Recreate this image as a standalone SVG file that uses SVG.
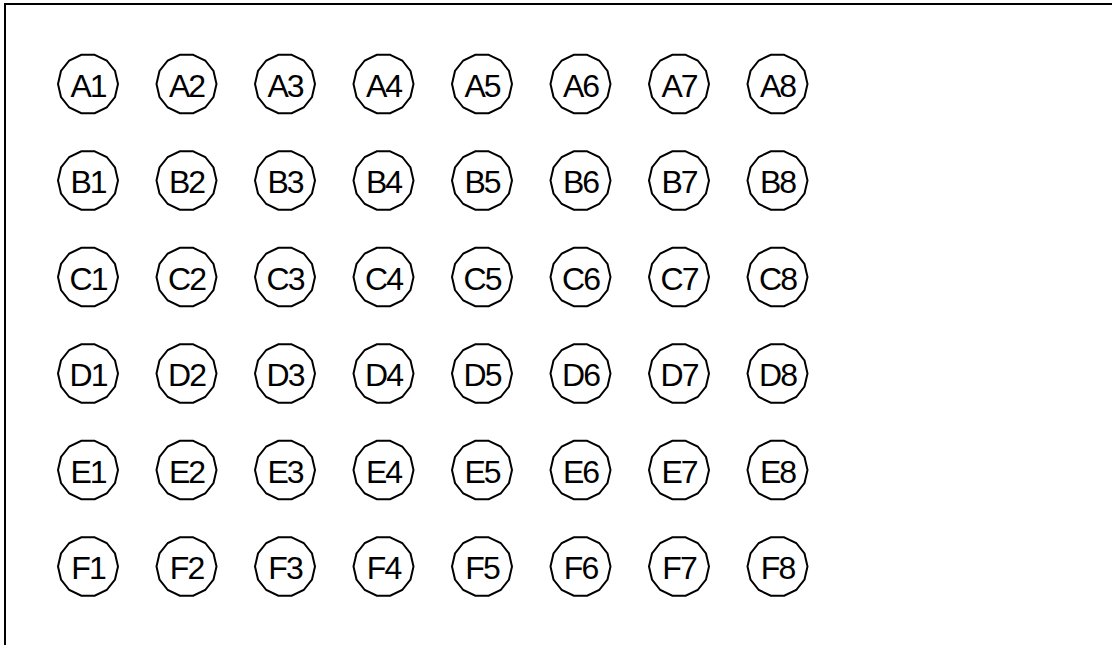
<svg xmlns="http://www.w3.org/2000/svg" width="1112" height="645" viewBox="0 0 1112 645">
<defs>
<style>
.n text{font-family:"Liberation Sans",Arial,sans-serif;font-size:32px;text-anchor:middle;fill:#000;letter-spacing:-2px}
</style>
<polygon id="p" fill="#fff" stroke="#000" stroke-width="2" points="6.7,-29.2 18.7,-23.5 27,-13 30,0 27,13 18.7,23.5 6.7,29.2 -6.7,29.2 -18.7,23.5 -27,13 -30,0 -27,-13 -18.7,-23.5 -6.7,-29.2"/>
</defs>
<rect width="1112" height="645" fill="#fff"/>
<path d="M5,660 V4 H1120" fill="none" stroke="#000" stroke-width="2"/>
<g id="nodes">
<g id="A1" class="n" transform="translate(88,84)"><use href="#p"/><text x="0" y="12.5">A1</text></g>
<g id="A2" class="n" transform="translate(186.5,84)"><use href="#p"/><text x="0" y="12.5">A2</text></g>
<g id="A3" class="n" transform="translate(285,84)"><use href="#p"/><text x="0" y="12.5">A3</text></g>
<g id="A4" class="n" transform="translate(383.5,84)"><use href="#p"/><text x="0" y="12.5">A4</text></g>
<g id="A5" class="n" transform="translate(482,84)"><use href="#p"/><text x="0" y="12.5">A5</text></g>
<g id="A6" class="n" transform="translate(580.5,84)"><use href="#p"/><text x="0" y="12.5">A6</text></g>
<g id="A7" class="n" transform="translate(679,84)"><use href="#p"/><text x="0" y="12.5">A7</text></g>
<g id="A8" class="n" transform="translate(777.5,84)"><use href="#p"/><text x="0" y="12.5">A8</text></g>
<g id="B1" class="n" transform="translate(88,180.5)"><use href="#p"/><text x="0" y="12.5">B1</text></g>
<g id="B2" class="n" transform="translate(186.5,180.5)"><use href="#p"/><text x="0" y="12.5">B2</text></g>
<g id="B3" class="n" transform="translate(285,180.5)"><use href="#p"/><text x="0" y="12.5">B3</text></g>
<g id="B4" class="n" transform="translate(383.5,180.5)"><use href="#p"/><text x="0" y="12.5">B4</text></g>
<g id="B5" class="n" transform="translate(482,180.5)"><use href="#p"/><text x="0" y="12.5">B5</text></g>
<g id="B6" class="n" transform="translate(580.5,180.5)"><use href="#p"/><text x="0" y="12.5">B6</text></g>
<g id="B7" class="n" transform="translate(679,180.5)"><use href="#p"/><text x="0" y="12.5">B7</text></g>
<g id="B8" class="n" transform="translate(777.5,180.5)"><use href="#p"/><text x="0" y="12.5">B8</text></g>
<g id="C1" class="n" transform="translate(88,277)"><use href="#p"/><text x="0" y="12.5">C1</text></g>
<g id="C2" class="n" transform="translate(186.5,277)"><use href="#p"/><text x="0" y="12.5">C2</text></g>
<g id="C3" class="n" transform="translate(285,277)"><use href="#p"/><text x="0" y="12.5">C3</text></g>
<g id="C4" class="n" transform="translate(383.5,277)"><use href="#p"/><text x="0" y="12.5">C4</text></g>
<g id="C5" class="n" transform="translate(482,277)"><use href="#p"/><text x="0" y="12.5">C5</text></g>
<g id="C6" class="n" transform="translate(580.5,277)"><use href="#p"/><text x="0" y="12.5">C6</text></g>
<g id="C7" class="n" transform="translate(679,277)"><use href="#p"/><text x="0" y="12.5">C7</text></g>
<g id="C8" class="n" transform="translate(777.5,277)"><use href="#p"/><text x="0" y="12.5">C8</text></g>
<g id="D1" class="n" transform="translate(88,373.5)"><use href="#p"/><text x="0" y="12.5">D1</text></g>
<g id="D2" class="n" transform="translate(186.5,373.5)"><use href="#p"/><text x="0" y="12.5">D2</text></g>
<g id="D3" class="n" transform="translate(285,373.5)"><use href="#p"/><text x="0" y="12.5">D3</text></g>
<g id="D4" class="n" transform="translate(383.5,373.5)"><use href="#p"/><text x="0" y="12.5">D4</text></g>
<g id="D5" class="n" transform="translate(482,373.5)"><use href="#p"/><text x="0" y="12.5">D5</text></g>
<g id="D6" class="n" transform="translate(580.5,373.5)"><use href="#p"/><text x="0" y="12.5">D6</text></g>
<g id="D7" class="n" transform="translate(679,373.5)"><use href="#p"/><text x="0" y="12.5">D7</text></g>
<g id="D8" class="n" transform="translate(777.5,373.5)"><use href="#p"/><text x="0" y="12.5">D8</text></g>
<g id="E1" class="n" transform="translate(88,470)"><use href="#p"/><text x="0" y="12.5">E1</text></g>
<g id="E2" class="n" transform="translate(186.5,470)"><use href="#p"/><text x="0" y="12.5">E2</text></g>
<g id="E3" class="n" transform="translate(285,470)"><use href="#p"/><text x="0" y="12.5">E3</text></g>
<g id="E4" class="n" transform="translate(383.5,470)"><use href="#p"/><text x="0" y="12.5">E4</text></g>
<g id="E5" class="n" transform="translate(482,470)"><use href="#p"/><text x="0" y="12.5">E5</text></g>
<g id="E6" class="n" transform="translate(580.5,470)"><use href="#p"/><text x="0" y="12.5">E6</text></g>
<g id="E7" class="n" transform="translate(679,470)"><use href="#p"/><text x="0" y="12.5">E7</text></g>
<g id="E8" class="n" transform="translate(777.5,470)"><use href="#p"/><text x="0" y="12.5">E8</text></g>
<g id="F1" class="n" transform="translate(88,566.5)"><use href="#p"/><text x="0" y="12.5">F1</text></g>
<g id="F2" class="n" transform="translate(186.5,566.5)"><use href="#p"/><text x="0" y="12.5">F2</text></g>
<g id="F3" class="n" transform="translate(285,566.5)"><use href="#p"/><text x="0" y="12.5">F3</text></g>
<g id="F4" class="n" transform="translate(383.5,566.5)"><use href="#p"/><text x="0" y="12.5">F4</text></g>
<g id="F5" class="n" transform="translate(482,566.5)"><use href="#p"/><text x="0" y="12.5">F5</text></g>
<g id="F6" class="n" transform="translate(580.5,566.5)"><use href="#p"/><text x="0" y="12.5">F6</text></g>
<g id="F7" class="n" transform="translate(679,566.5)"><use href="#p"/><text x="0" y="12.5">F7</text></g>
<g id="F8" class="n" transform="translate(777.5,566.5)"><use href="#p"/><text x="0" y="12.5">F8</text></g>
</g>
<g id="connectors"/>
</svg>
